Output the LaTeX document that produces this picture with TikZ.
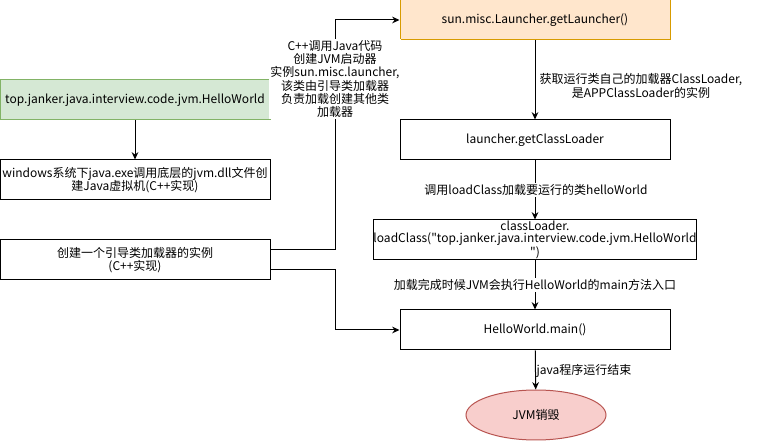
\documentclass[tikz,border=0pt]{standalone}
\usepackage{fontspec}
\newfontfamily\diagfont{Noto Sans CJK SC}
\usetikzlibrary{arrows.meta,shapes.geometric}
\definecolor{greenfill}{HTML}{D5E8D4}
\definecolor{greenline}{HTML}{82B366}
\definecolor{orangefill}{HTML}{FFE6CC}
\definecolor{orangeline}{HTML}{D79B00}
\definecolor{redfill}{HTML}{F8CECC}
\definecolor{redline}{HTML}{B85450}

\begin{document}
\begin{tikzpicture}[x=0.75pt,y=-0.75pt,font=\diagfont\fontsize{9}{10}\selectfont,
  box/.style={draw,line width=0.75pt,minimum width=202.5pt,minimum height=30pt,align=center,inner sep=1pt},
  flow/.style={-{Stealth[length=5.5pt,width=5pt]},line width=0.75pt},
  lbl/.style={fill=white,align=center,inner sep=1pt}]
\useasboundingbox (0,0) rectangle (761,441);
% left column
\node [box,fill=greenfill,draw=greenline] (hello) at (135,100) {top.janker.java.interview.code.jvm.HelloWorld};
\node [box] (win) at (135,180) {windows系统下java.exe调用底层的jvm.dll文件创\\建Java虚拟机(C++实现)};
\node [box] (boot) at (135,260) {创建一个引导类加载器的实例\\(C++实现)};
% right column
\node [box,fill=orangefill,draw=orangeline] (launch) at (535,20) {sun.misc.Launcher.getLauncher()};
\node [box] (getcl) at (535,140) {launcher.getClassLoader};
\node [box,minimum width=240pt,inner sep=0pt,font=\diagfont\fontsize{9}{9.4}\selectfont] (loadcl) at (535,240) {classLoader.\\loadClass("top.janker.java.interview.code.jvm.HelloWorld\\")};
\node [box] (main) at (535,330) {HelloWorld.main()};
\node [ellipse,draw=redline,fill=redfill,line width=0.75pt,minimum width=105pt,minimum height=37.5pt] (destroy) at (536,415) {JVM销毁};
% connectors
\draw [flow] (hello) -- (win);
\draw [flow] ([yshift=7.5pt]boot.east) -- ++(65,0) |- (launch.west);
\node [lbl] (cpp) at (335,79) {C++调用Java代码\\创建JVM启动器\\实例sun.misc.launcher,\\该类由引导类加载器\\负责加载创建其他类\\加载器};
\draw [flow] ([yshift=-7.5pt]boot.east) -- ++(65,0) |- (main.west);
\draw [flow] (launch) -- (getcl);
\node [align=center,inner sep=1pt] (getlbl) at (641,86) {获取运行类自己的加载器ClassLoader,\\是APPClassLoader的实例};
\draw [flow] (getcl) -- (loadcl);
\node [lbl] (calllbl) at (536,190) {调用loadClass加载要运行的类helloWorld};
\draw [flow] (loadcl) -- (main);
\node [lbl] (mainlbl) at (535,285) {加载完成时候JVM会执行HelloWorld的main方法入口};
\draw [flow] (main) -- (destroy);
\node [inner sep=1pt] (endlbl) at (584,371) {java程序运行结束};
\end{tikzpicture}
\end{document}
